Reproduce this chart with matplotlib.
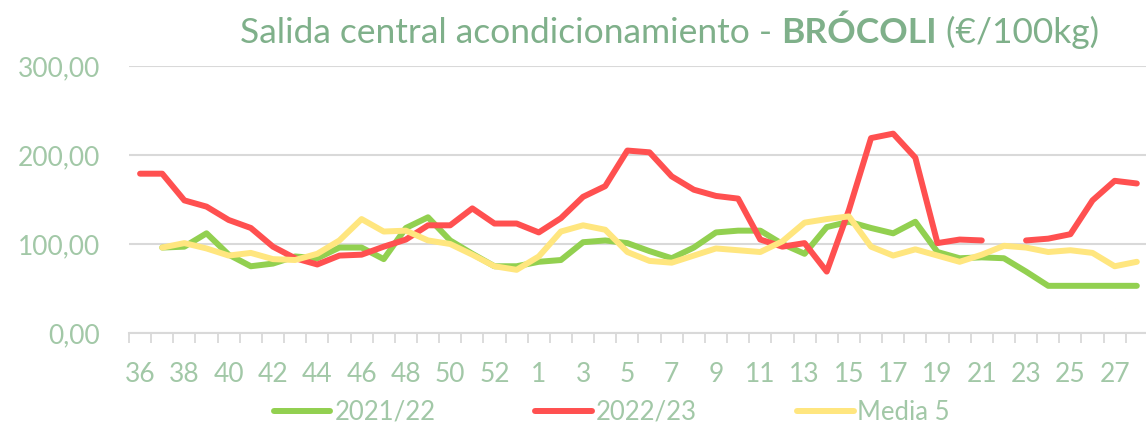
import numpy as np
import matplotlib
matplotlib.use("Agg")
import matplotlib.pyplot as plt
from matplotlib.lines import Line2D
from matplotlib.ticker import FixedLocator, FuncFormatter

# semanas de la campaña (36..53 y 1..28)
semanas = list(range(36, 54)) + list(range(1, 29))

campana_2021_22 = [np.nan, 96, 97, 112, 88, 75, 78, 86, 84, 96, 96, 83, 118, 130, 104, 89,
                   75, 75, 80, 82, 102, 104, 101, 92, 84, 96, 113, 115, 115, 100, 89,
                   119, 125, 118, 112, 125, 91, 84, 85, 84, 69, 53, 53, 53, 53, 53]
campana_2022_23 = [179, 179, 149, 142, 127, 118, 97, 84, 77, 87, 88, 97, 105, 121, 121, 140,
                   123, 123, 113, 129, 153, 165, 205, 203, 176, 161, 154, 151, 105, 97, 101,
                   69, 138, 219, 224, 197, 101, 105, 104, np.nan, 104, 106, 111, 149, 171, 168]
media_5 = [np.nan, 96, 101, 95, 87, 90, 83, 82, 89, 104, 128, 114, 115, 104, 100, 88,
           75, 71, 86, 114, 121, 116, 91, 81, 79, 87, 95, 93, 91, 103, 124,
           128, 131, 97, 87, 94, 87, 80, 88, 98, 96, 91, 93, 90, 75, 80]

W, H = 1146, 425
VERDE = "#92D050"
ROJO = "#FF5050"
AMARILLO = "#FFE67F"
TXT = "#A2C8A7"
TIT = "#7FB08A"
GRIS = "#D9D9D9"

plt.rcParams['font.family'] = ['Lato', 'DejaVu Sans']

fig = plt.figure(figsize=(W / 100, H / 100), dpi=100)
x0, x1, y0, y1 = 129, 1146, 333, 66
ax = fig.add_axes([x0 / W, 1 - y0 / H, (x1 - x0) / W, (y0 - y1) / H])

paso = 22.15
x = np.arange(len(semanas))
for serie, color in [(campana_2021_22, VERDE), (campana_2022_23, ROJO), (media_5, AMARILLO)]:
    ax.plot(x, serie, color=color, lw=4.3, solid_capstyle='round',
            solid_joinstyle='round', clip_on=False)

ax.set_xlim(-0.5, -0.5 + (x1 - x0) / paso)
ax.set_ylim(0, 300)

ax.xaxis.set_major_locator(FixedLocator(x[::2]))
ax.set_xticklabels([str(s) for s in semanas[::2]])
ax.xaxis.set_minor_locator(FixedLocator(np.arange(-0.5, len(semanas) + 0.5, 1)))
ax.tick_params(axis='x', which='major', length=0, pad=21, labelsize=19, labelcolor=TXT)
ax.tick_params(axis='x', which='minor', length=7, width=1.3, color=GRIS, direction='out')

ax.set_yticks([0, 100, 200, 300])
ax.yaxis.set_major_formatter(FuncFormatter(lambda v, p: f"{v:.2f}".replace('.', ',')))
ax.tick_params(axis='y', length=0, pad=21, labelsize=19, labelcolor=TXT)
ax.yaxis.grid(True, color=GRIS, lw=1.5)
ax.set_axisbelow(True)

for s in ['top', 'right', 'left']:
    ax.spines[s].set_visible(False)
ax.spines['bottom'].set_color(GRIS)
ax.spines['bottom'].set_linewidth(1.5)

# título con parte en negrita
partes = [("Salida central acondicionamiento - ", 'normal'),
          ("BRÓCOLI", 'bold'),
          (" (€/100kg)", 'normal')]
tam = 22
renderer = fig.canvas.get_renderer()
textos = []
xpos = 240
for txt, peso in partes:
    t = fig.text(xpos / W, 1 - 43 / H, txt, fontsize=tam, fontweight=peso,
                 color=TIT, ha='left', va='baseline')
    fig.canvas.draw()
    bb = t.get_window_extent(renderer)
    textos.append(t)
    xpos = bb.x1
ancho = xpos - 240
esc = 856 / ancho
xpos = 240
for t in textos:
    t.set_fontsize(tam * esc)
    t.set_x(xpos / W)
    fig.canvas.draw()
    xpos = t.get_window_extent(renderer).x1

handles = [Line2D([], [], color=c, lw=4.3, solid_capstyle='round') for c in (VERDE, ROJO, AMARILLO)]
leg = fig.legend(handles, ["2021/22", "2022/23", "Media 5"], loc='center',
                 bbox_to_anchor=(612 / W, 1 - 412 / H), ncol=3, frameon=False,
                 handlelength=2.2, handletextpad=0.15, columnspacing=3.9, fontsize=18.5)
for t in leg.get_texts():
    t.set_color(TXT)

fig.savefig("out.png", dpi=100, facecolor='white')
